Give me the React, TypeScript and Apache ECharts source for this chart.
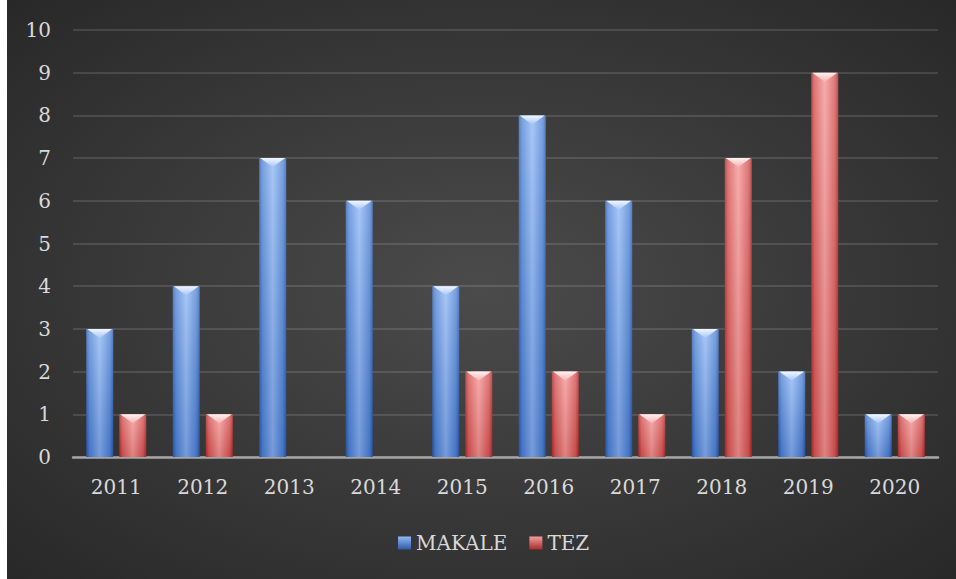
import React, { useEffect, useRef } from "react";
import * as echarts from "echarts";

const categories = ["2011", "2012", "2013", "2014", "2015", "2016", "2017", "2018", "2019", "2020"];
const makale = [3, 4, 7, 6, 4, 8, 6, 3, 2, 1];
const tez = [1, 1, 0, 0, 2, 2, 1, 7, 9, 1];
const seriesNames = ["MAKALE", "TEZ"];
const yTicks = { min: 0, max: 10, interval: 1 };

const palettes = [
  {
    edge: "#2f5aa8",
    side: "#5286d8",
    mid: "#90b8f3",
    bevel: "#f2f7ff",
    bevelSide: "#a6c6f6",
    shadeTop: "rgba(255,255,255,0.22)",
    shadeBot: "rgba(10,40,110,0.2)",
    legend: "#5b8fd9",
  },
  {
    edge: "#a82c2c",
    side: "#d85a5a",
    mid: "#f49c9c",
    bevel: "#fff2f2",
    bevelSide: "#f7b0b0",
    shadeTop: "rgba(255,255,255,0.18)",
    shadeBot: "rgba(120,10,10,0.18)",
    legend: "#d95b5b",
  },
];

function makeRender(si: number) {
  const p = palettes[si];
  return (params: any, api: any) => {
    const idx = api.value(0);
    const val = api.value(1);
    if (!val) return null;
    const top = api.coord([idx, val]);
    const base = api.coord([idx, 0]);
    const band = api.size([1, 0])[0];
    const bw = band * 0.312;
    const gap = band * 0.07;
    const c = top[0];
    const x = si === 0 ? c - gap / 2 - bw : c + gap / 2;
    const y = top[1];
    const h = base[1] - top[1];
    const bev = Math.min(9, h / 2);
    return {
      type: "group",
      children: [
        {
          type: "rect",
          shape: { x, y, width: bw, height: h },
          style: {
            fill: new echarts.graphic.LinearGradient(0, 0, 1, 0, [
              { offset: 0, color: p.edge },
              { offset: 0.12, color: p.side },
              { offset: 0.5, color: p.mid },
              { offset: 0.88, color: p.side },
              { offset: 1, color: p.edge },
            ]),
          },
        },
        {
          type: "rect",
          shape: { x, y, width: bw, height: h },
          style: {
            fill: new echarts.graphic.LinearGradient(0, 0, 0, 1, [
              { offset: 0, color: p.shadeTop },
              { offset: 1, color: p.shadeBot },
            ]),
          },
        },
        {
          type: "polygon",
          shape: {
            points: [
              [x + 1, y],
              [x + bw - 1, y],
              [x + bw / 2, y + bev],
            ],
          },
          style: {
            fill: new echarts.graphic.LinearGradient(0, 0, 0, 1, [
              { offset: 0, color: p.bevel },
              { offset: 1, color: p.bevelSide },
            ]),
          },
        },
      ],
    };
  };
}

export default function App() {
  const ref = useRef<HTMLDivElement>(null);
  useEffect(() => {
    if (!ref.current) return;
    const chart = echarts.init(ref.current, null, { renderer: "svg" });
    const font = "DejaVu Serif";
    const mkData = (arr: number[]) => arr.map((v, i) => [i, v]);
    chart.setOption({
      animation: false,
      backgroundColor: {
        type: "radial",
        x: 0.5,
        y: 0.5,
        r: 0.75,
        colorStops: [
          { offset: 0, color: "#4b4b4b" },
          { offset: 1, color: "#262626" },
        ],
      },
      grid: { left: 66, right: 18, top: 30, bottom: 122 },
      legend: {
        left: 386,
        top: 528,
        icon: "rect",
        itemWidth: 13,
        itemHeight: 13,
        itemGap: 22,
        textStyle: { color: "#d9d9d9", fontFamily: font, fontSize: 20, padding: [0, 0, 0, 0] },
        data: seriesNames.map((n, i) => ({
          name: n,
          itemStyle: {
            color: new echarts.graphic.LinearGradient(0, 0, 0, 1, [
              { offset: 0, color: palettes[i].mid },
              { offset: 1, color: palettes[i].edge },
            ]),
          },
        })),
      },
      xAxis: {
        type: "category",
        data: categories,
        axisLine: { lineStyle: { color: "#a6a6a6", width: 2.5 } },
        axisTick: { show: false },
        axisLabel: { color: "#d9d9d9", fontFamily: font, fontSize: 20, margin: 20 },
      },
      yAxis: {
        type: "value",
        min: yTicks.min,
        max: yTicks.max,
        interval: yTicks.interval,
        axisLine: { show: false },
        axisTick: { show: false },
        splitLine: { lineStyle: { color: "rgba(255,255,255,0.12)", width: 2 } },
        axisLabel: { color: "#d9d9d9", fontFamily: font, fontSize: 20, margin: 22 },
      },
      series: [
        {
          name: seriesNames[0],
          type: "custom",
          renderItem: makeRender(0),
          itemStyle: { color: palettes[0].legend },
          encode: { x: 0, y: 1 },
          data: mkData(makale),
        },
        {
          name: seriesNames[1],
          type: "custom",
          renderItem: makeRender(1),
          itemStyle: { color: palettes[1].legend },
          encode: { x: 0, y: 1 },
          data: mkData(tez),
        },
      ],
    });
    return () => chart.dispose();
  }, []);
  return (
    <div
      ref={ref}
      style={{ position: "absolute", left: 7, top: 0, width: 949, height: 579 }}
    />
  );
}
